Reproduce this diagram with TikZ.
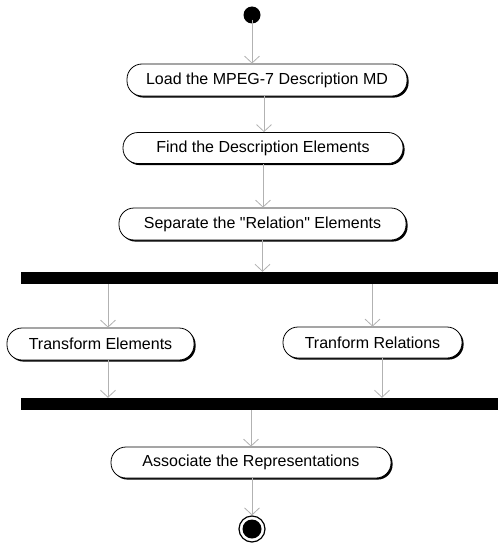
\documentclass[tikz,border=0pt]{standalone}
\usepackage{fontspec}
\setmainfont{Liberation Sans}
\usetikzlibrary{arrows.meta,shadows}
\begin{document}
\begin{tikzpicture}[x=1pt,y=-1pt,
  action/.style={draw=black, line width=0.8pt, fill=white, rounded corners=15pt,
    inner sep=0pt, font=\fontsize{16}{18}\selectfont,
    drop shadow={shadow xshift=1.6pt, shadow yshift=-1.6pt, opacity=1, fill=black}},
  syncbar/.style={fill=black, draw=none, inner sep=0pt, minimum height=12pt},
  flow/.style={draw=black!30, line width=0.8pt, -{Straight Barb[length=7pt,width=15pt]}},
]
\useasboundingbox (0,0) rectangle (498,543);

% initial and final states
\node[circle, fill=black, minimum size=17pt, inner sep=0pt] (start) at (252,15) {};
\node[circle, draw=black, line width=1.2pt, minimum size=26pt, inner sep=0pt] (stop) at (252,529) {};
\fill[black] (stop.center) circle (9.5pt);

% activities
\node[action, minimum width=280pt, minimum height=32pt] (load) at (267,80) {Load the MPEG-7 Description MD};
\node[action, minimum width=280pt, minimum height=31pt] (find) at (263,148) {Find the Description Elements};
\node[action, minimum width=287pt, minimum height=32pt] (sep) at (262.5,224) {Separate the \textquotedbl Relation\textquotedbl{} Elements};
\node[action, minimum width=187pt, minimum height=32pt] (te) at (100.5,344) {Transform Elements};
\node[action, minimum width=179pt, minimum height=31pt] (tr) at (372.5,342.5) {Tranform Relations};
\node[action, minimum width=280pt, minimum height=31pt] (assoc) at (251,462.5) {Associate the Representations};

% fork and join bars
\node[syncbar, minimum width=477pt] (fork) at (259.5,278) {};
\node[syncbar, minimum width=477pt] (join) at (259.5,404) {};

% control flows
\draw[flow] ([yshift=4pt]start.south) -- (start.south |- load.north);
\draw[flow] ([xshift=-3pt]load.south) -- ([xshift=-3pt]load.south |- find.north);
\draw[flow] (find.south) -- (find.south |- sep.north);
\draw[flow] (sep.south) -- (sep.south |- fork.north);
\draw[flow] ([xshift=7.5pt]te.north |- fork.south) -- ([xshift=7.5pt]te.north);
\draw[flow] (tr.north |- fork.south) -- (tr.north);
\draw[flow] ([xshift=7.5pt]te.south) -- ([xshift=7.5pt]te.south |- join.north);
\draw[flow] ([xshift=9.5pt]tr.south) -- ([xshift=9.5pt]tr.south |- join.north);
\draw[flow] (join.south -| assoc.north) -- (assoc.north);
\draw[flow] ([xshift=1pt]assoc.south) -- ([xshift=1pt]assoc.south |- stop.north);
\end{tikzpicture}
\end{document}
